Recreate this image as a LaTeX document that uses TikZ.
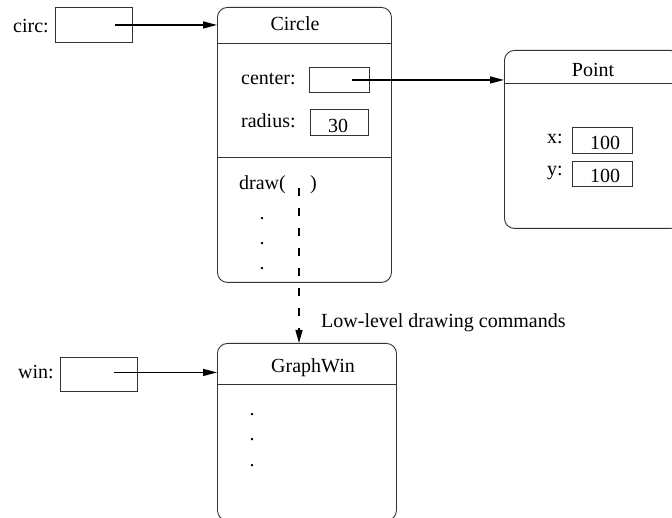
\documentclass[tikz,border=0pt]{standalone}
\usepackage{fontspec}
\setmainfont{Liberation Serif}
\usetikzlibrary{arrows.meta}
\tikzset{
  objbox/.style={draw=black!80, line width=0.9pt, rounded corners=10pt, rectangle, inner sep=0pt, anchor=north west},
  slotbox/.style={draw=black!80, line width=0.9pt, rectangle, inner sep=0pt, anchor=north west},
  sepline/.style={draw=black!80, line width=0.9pt},
  txt/.style={inner sep=0pt, anchor=base},
  ltxt/.style={inner sep=0pt, anchor=base west},
  ptr/.style={draw=black, line width=1.3pt, -{Triangle[length=14pt,width=7pt]}},
  dptr/.style={draw=black, line width=1.3pt, dash pattern=on 8pt off 12pt, -{Triangle[length=13pt,width=7pt]}}
}
\begin{document}
\begin{tikzpicture}[x=1pt,y=-1pt,font=\fontsize{20}{24}\selectfont]
\useasboundingbox (0,0) rectangle (672,518);
\clip (0,0) rectangle (672,518);

% Circle object
\node[objbox, minimum width=174pt, minimum height=275pt] (circle) at (217,7) {};
\draw[sepline] (217,43) -- (391,43);
\draw[sepline] (217,157) -- (391,157);
\node[txt] (circlet) at (295,31) {Circle};
\node[ltxt] (centerl) at (241,85) {center:};
\node[slotbox, minimum width=60pt, minimum height=25pt] (centerbox) at (309,67) {};
\node[ltxt] (radiusl) at (241,128) {radius:};
\node[slotbox, minimum width=58pt, minimum height=26pt] (radiusbox) at (310,109) {};
\node[txt] (radiusv) at (338,133) {30};
\node[ltxt] (drawl) at (239,190) {draw(};
\node[ltxt] (drawr) at (310,190) {)};
\node[txt] (cd1) at (262,220) {.};
\node[txt] (cd2) at (262,245) {.};
\node[txt] (cd3) at (262,270) {.};

% circ variable
\node[ltxt] (circl) at (13,33) {circ:};
\node[slotbox, minimum width=77pt, minimum height=35pt] (circbox) at (55,7) {};
\draw[ptr] ([xshift=21.5pt]circbox.center) -- (circbox.center -| circle.west);

% Point object
\node[objbox, minimum width=176pt, minimum height=178pt] (point) at (504,50) {};
\draw[sepline] (504,83) -- (680,83);
\node[txt] (pointt) at (593,77) {Point};
\node[ltxt] (xl) at (547,144) {x:};
\node[slotbox, minimum width=60pt, minimum height=26pt] (xbox) at (572,127) {};
\node[txt] (xv) at (605,150) {100};
\node[ltxt] (yl) at (547,176) {y:};
\node[slotbox, minimum width=60pt, minimum height=25pt] (ybox) at (572,161) {};
\node[txt] (yv) at (605,183) {100};
\draw[ptr] ([xshift=13pt]centerbox.center) -- (centerbox.center -| point.west);

% GraphWin object
\node[objbox, minimum width=179pt, minimum height=177pt] (graphwin) at (217,343) {};
\draw[sepline] (217,384) -- (396,384);
\node[txt] (graphwint) at (313,373) {GraphWin};
\node[txt] (gd1) at (252,416) {.};
\node[txt] (gd2) at (252,440) {.};
\node[txt] (gd3) at (252,466) {.};

% win variable
\node[ltxt] (winl) at (18,379) {win:};
\node[slotbox, minimum width=77pt, minimum height=34pt] (winbox) at (60,357) {};
\draw[ptr] ([xshift=15.5pt,yshift=2pt]winbox.center) -- ([yshift=2pt]winbox.center -| graphwin.west);

% low-level drawing commands
\coordinate (drawarg) at (299,188);
\draw[dptr] (drawarg) -- (drawarg |- graphwin.north);
\node[ltxt] (lowl) at (321,328) {Low-level drawing commands};
\end{tikzpicture}
\end{document}
